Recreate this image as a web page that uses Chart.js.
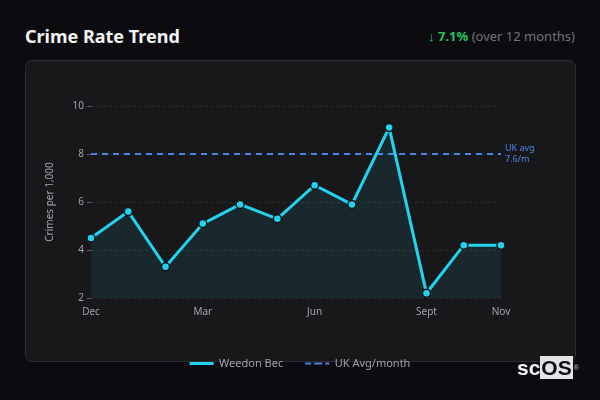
<!DOCTYPE html>
<html lang="en">
<head>
    <meta charset="UTF-8">
    <title>Crime Rate Trend</title>
    <script src="https://cdn.jsdelivr.net/npm/chart.js"></script>
    <style>
        html, body {
            margin: 0;
            padding: 0;
            width: 600px;
            height: 400px;
            background: #0c0c10;
            font-family: "Noto Sans", "Open Sans", sans-serif;
            overflow: hidden;
        }
        .title {
            position: absolute;
            left: 25px;
            top: 24px;
            font-size: 18px;
            font-weight: bold;
            color: #f4f4f5;
        }
        .change {
            position: absolute;
            right: 25px;
            top: 27px;
            font-size: 13px;
            color: #71717a;
        }
        .change b {
            color: #22c55e;
        }
        .card {
            position: absolute;
            left: 25px;
            top: 60px;
            width: 549px;
            height: 300px;
            background: #18181b;
            border: 1px solid #2c2c31;
            border-radius: 7px;
        }
        .chart-box {
            position: absolute;
            left: 25px;
            top: 61px;
            width: 550px;
            height: 318px;
        }
        .logo {
            position: absolute;
            left: 517px;
            top: 358px;
            font-family: "Liberation Sans", Arial, sans-serif;
            font-weight: bold;
            font-size: 21px;
            line-height: 20px;
            color: #f4f4f5;
        }
        .logo span {
            background: #e4e4e7;
            color: #0c0c10;
            padding: 0 1px;
        }
        .logo sup {
            font-size: 7px;
            color: #a1a1aa;
            vertical-align: top;
            margin-left: 1px;
        }
    </style>
</head>
<body>
    <div class="title">Crime Rate Trend</div>
    <div class="change"><b>↓ 7.1%</b> (over 12 months)</div>
    <div class="card"></div>
    <div class="chart-box"><canvas id="myChart"></canvas></div>
    <div class="logo">sc<span>OS</span><sup>®</sup></div>

    <script>
        const months = ['Dec', 'Jan', 'Feb', 'Mar', 'Apr', 'May', 'Jun', 'Jul', 'Aug', 'Sept', 'Oct', 'Nov'];
        const weedonBec = [4.5, 5.6, 3.3, 5.1, 5.9, 5.3, 6.7, 5.9, 9.1, 2.2, 4.2, 4.2];
        const ukAvg = [8, 8, 8, 8, 8, 8, 8, 8, 8, 8, 8, 8];
        const ukAvgNote = ['UK avg', '7.6/m'];
        const shownMonths = ['Dec', 'Mar', 'Jun', 'Sept', 'Nov'];
        const yTicks = [2, 4, 6, 8, 10];

        const cyan = '#22d3ee';
        const blue = '#4a84e6';

        // small label to the right of the UK average line
        const avgLabel = {
            id: 'avgLabel',
            afterDatasetsDraw(chart) {
                const y = chart.scales.y.getPixelForValue(ukAvg[ukAvg.length - 1]);
                const ctx = chart.ctx;
                ctx.save();
                ctx.fillStyle = blue;
                ctx.font = '9px "Noto Sans", sans-serif';
                ctx.textBaseline = 'middle';
                ctx.fillText(ukAvgNote[0], chart.chartArea.right + 4, y - 6);
                ctx.fillText(ukAvgNote[1], chart.chartArea.right + 4, y + 5);
                ctx.restore();
            }
        };

        Chart.defaults.font.family = '"Noto Sans", "Open Sans", sans-serif';
        Chart.defaults.color = '#9ca3af';

        const ctx = document.getElementById('myChart').getContext('2d');
        new Chart(ctx, {
            type: 'line',
            data: {
                labels: months,
                datasets: [{
                    label: 'Weedon Bec',
                    data: weedonBec,
                    borderColor: cyan,
                    borderWidth: 3,
                    backgroundColor: 'rgba(34, 211, 238, 0.09)',
                    fill: 'start',
                    tension: 0,
                    pointRadius: 4,
                    pointBackgroundColor: cyan,
                    pointBorderColor: '#0f1418',
                    pointBorderWidth: 1.5
                }, {
                    label: 'UK Avg/month',
                    data: ukAvg,
                    borderColor: blue,
                    borderWidth: 2,
                    borderDash: [6, 5],
                    pointRadius: 0,
                    fill: false
                }]
            },
            options: {
                responsive: true,
                maintainAspectRatio: false,
                animation: false,
                layout: {
                    padding: { left: 0, right: 0, top: 45, bottom: 0 }
                },
                plugins: {
                    legend: {
                        position: 'bottom',
                        labels: {
                            color: '#a1a1aa',
                            font: { size: 11 },
                            boxWidth: 24,
                            boxHeight: 0,
                            padding: 22
                        }
                    },
                    tooltip: { enabled: false }
                },
                scales: {
                    x: {
                        afterFit(scale) { scale.height = 38; },
                        grid: { display: false, drawTicks: false },
                        border: { display: false },
                        ticks: {
                            autoSkip: false,
                            maxRotation: 0,
                            padding: 8,
                            color: '#9ca3af',
                            font: { size: 10 },
                            callback(value, index) {
                                const m = months[index];
                                return shownMonths.includes(m) ? m : '';
                            }
                        }
                    },
                    y: {
                        min: yTicks[0],
                        max: yTicks[yTicks.length - 1],
                        afterFit(scale) { scale.width = 66; },
                        afterBuildTicks(scale) {
                            scale.ticks = yTicks.map(v => ({ value: v }));
                        },
                        border: { display: false, dash: [3, 3] },
                        grid: {
                            color: 'rgba(255, 255, 255, 0.08)',
                            tickColor: 'rgba(255, 255, 255, 0.3)',
                            tickLength: 4
                        },
                        ticks: {
                            padding: 3,
                            color: '#9ca3af',
                            font: { size: 10 }
                        },
                        title: {
                            display: true,
                            text: 'Crimes per 1,000',
                            color: '#9ca3af',
                            font: { size: 10 },
                            padding: { top: 19, bottom: 0 }
                        }
                    },
                    // empty right axis keeps room for the UK avg note
                    side: {
                        position: 'right',
                        afterFit(scale) { scale.width = 74; },
                        grid: { display: false, drawTicks: false },
                        border: { display: false },
                        ticks: { display: false }
                    }
                }
            },
            plugins: [avgLabel]
        });
    </script>
</body>
</html>
